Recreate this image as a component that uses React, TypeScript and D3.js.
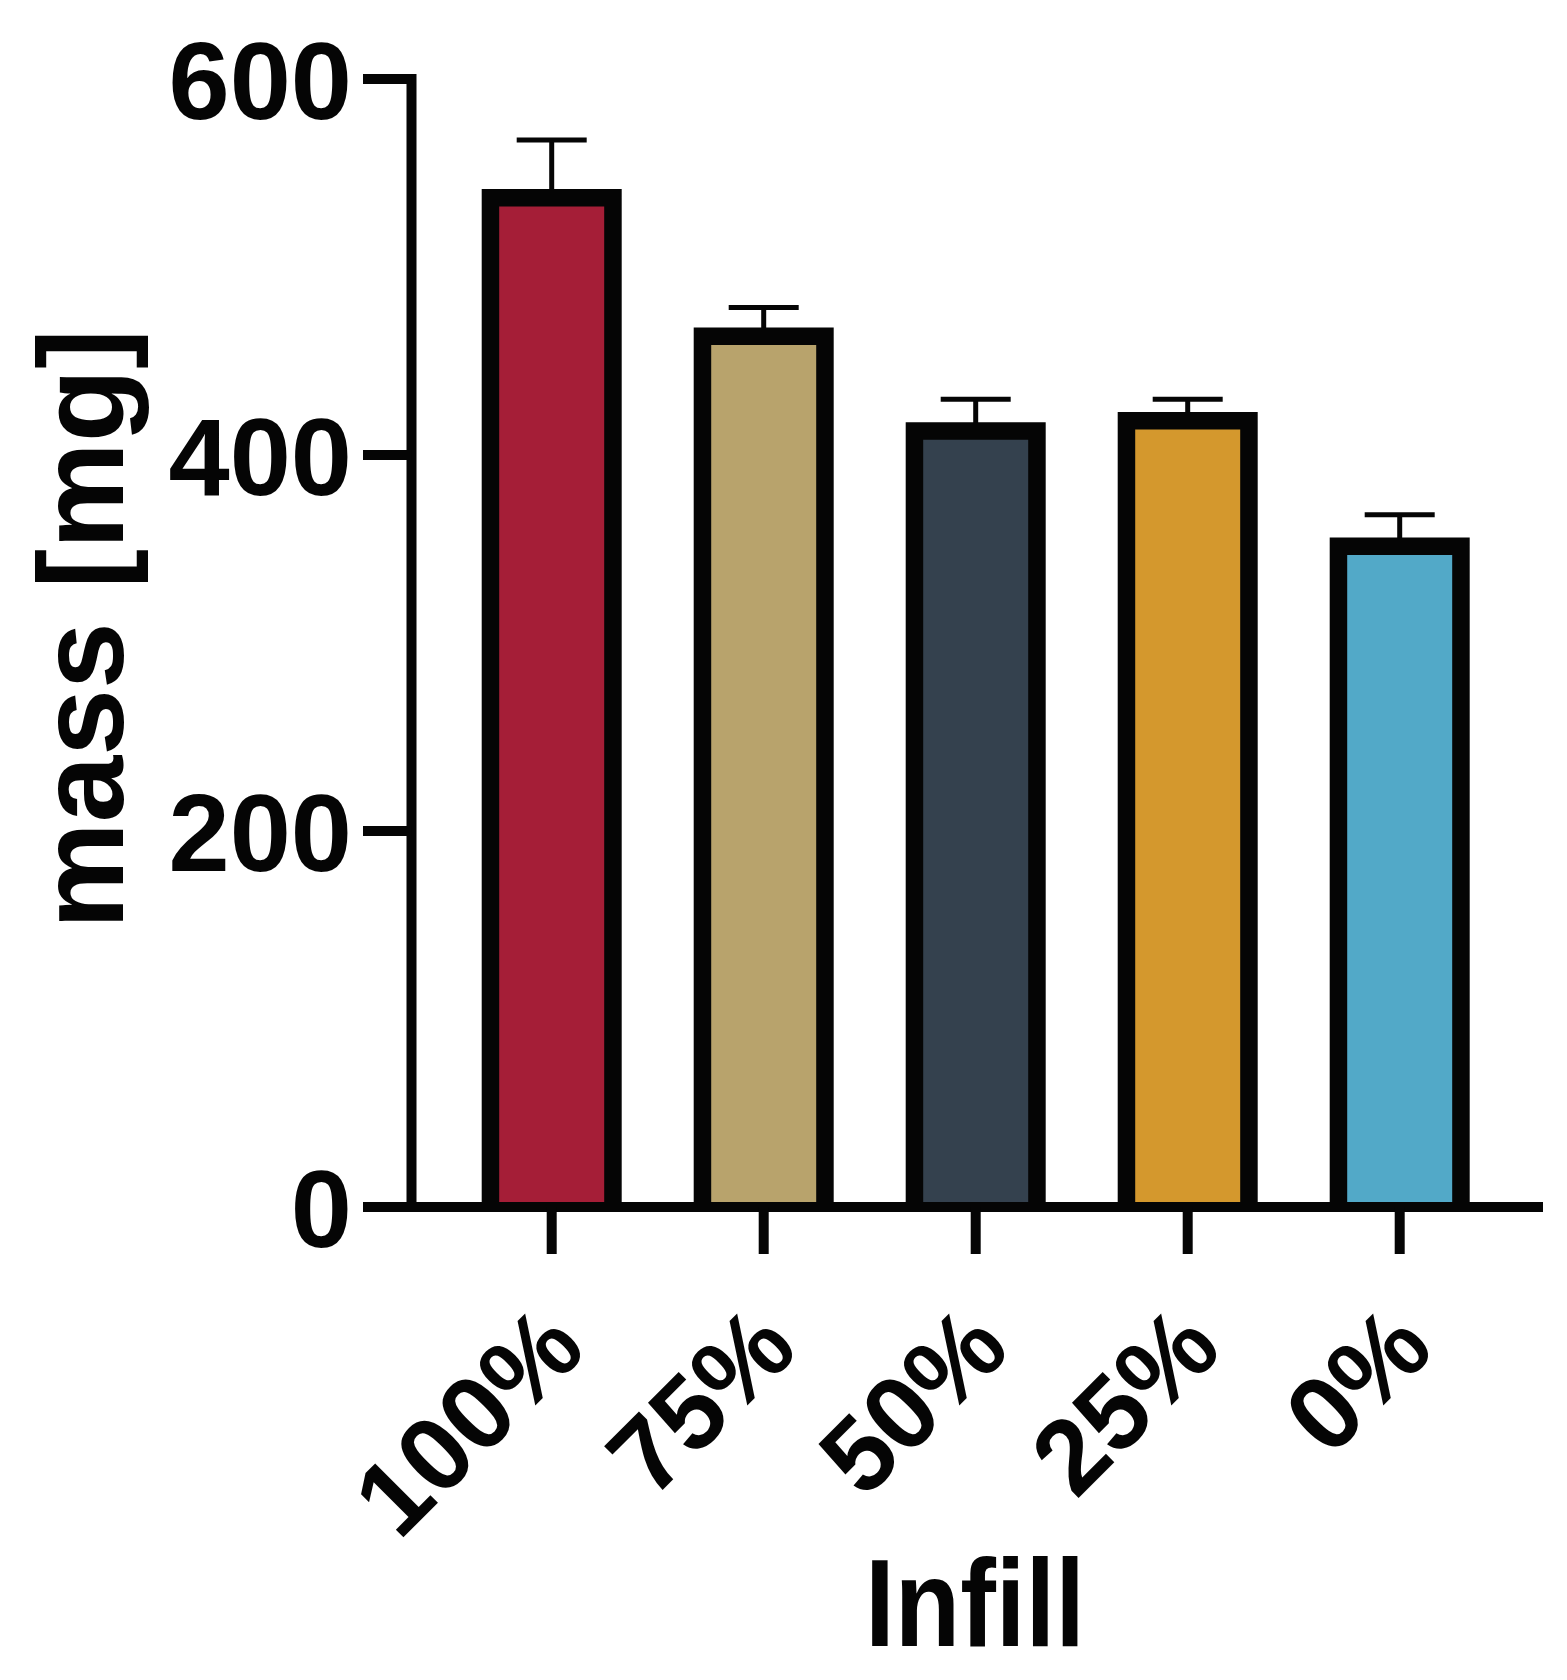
import React from "react";
import * as d3 from "d3";

const categories = ["100%", "75%", "50%", "25%", "0%"];
const means = [536.8, 463.1, 412.8, 418.2, 351.4];
const errors = [30.8, 15.3, 16.9, 11.5, 16.8];
const colors = ["#A51E37", "#B8A36C", "#34414E", "#D4982D", "#52A9C8"];
const yTicks = [0, 200, 400, 600];
const yTitle = "mass [mg]";
const xTitle = "Infill";

const W = 1567;
const H = 1680;
const FONT = "'Liberation Sans', Arial, Helvetica, sans-serif";

export default function App() {
  const y = d3.scaleLinear().domain([0, 600]).range([1207, 79]);
  const x = d3
    .scaleBand<string>()
    .domain(categories)
    .range([445.7, 1505.7])
    .paddingInner(0.34)
    .paddingOuter(0.17);

  const axisX = 411.5;
  const tickLeft = 363;
  const xAxisRight = 1543;
  const strokeAxis = 10;
  const barStroke = 17.5;
  const barHalf = 61.25;
  const capHalf = 35;
  const ink = "#050505";

  return (
    <svg
      width={W}
      height={H}
      viewBox={`0 0 ${W} ${H}`}
      style={{ position: "absolute", left: 0, top: 0, background: "#fff" }}
    >
      <rect x={0} y={0} width={W} height={H} fill="#fff" />
      {/* bars */}
      {categories.map((c, i) => {
        const cx = (x(c) as number) + x.bandwidth() / 2;
        const yt = y(means[i]);
        const ye = y(means[i] + errors[i]);
        const y0 = y(0);
        return (
          <g key={c}>
            <line x1={cx} x2={cx} y1={yt} y2={ye} stroke={ink} strokeWidth={5} />
            <line
              x1={cx - capHalf}
              x2={cx + capHalf}
              y1={ye}
              y2={ye}
              stroke={ink}
              strokeWidth={5}
            />
            <rect
              x={cx - barHalf}
              y={yt}
              width={barHalf * 2}
              height={y0 - yt}
              fill={colors[i]}
            />
            <path
              d={`M${cx - barHalf},${y0} L${cx - barHalf},${yt} L${cx + barHalf},${yt} L${cx + barHalf},${y0}`}
              fill="none"
              stroke={ink}
              strokeWidth={barStroke}
              strokeLinejoin="miter"
            />
          </g>
        );
      })}
      {/* y axis */}
      <line
        x1={axisX}
        x2={axisX}
        y1={y(600) - strokeAxis / 2}
        y2={y(0)}
        stroke={ink}
        strokeWidth={strokeAxis}
      />
      {yTicks.map((t) => (
        <g key={t}>
          <line
            x1={tickLeft}
            x2={axisX}
            y1={y(t)}
            y2={y(t)}
            stroke={ink}
            strokeWidth={strokeAxis}
          />
          <text
            x={352}
            y={y(t) + 40}
            textAnchor="end"
            fontFamily={FONT}
            fontWeight="bold"
            fontSize={110}
            fill={ink}
          >
            {t}
          </text>
        </g>
      ))}
      {/* x axis */}
      <line
        x1={tickLeft}
        x2={xAxisRight}
        y1={y(0)}
        y2={y(0)}
        stroke={ink}
        strokeWidth={strokeAxis}
      />
      {categories.map((c) => {
        const cx = (x(c) as number) + x.bandwidth() / 2;
        const ax = cx + 37;
        const ay = 1352;
        return (
          <g key={"t" + c}>
            <line
              x1={cx}
              x2={cx}
              y1={y(0)}
              y2={1254}
              stroke={ink}
              strokeWidth={strokeAxis}
            />
            <text
              x={ax}
              y={ay}
              transform={`rotate(-45 ${ax} ${ay})`}
              textAnchor="end"
              fontFamily={FONT}
              fontWeight="bold"
              fontSize={105}
              fill={ink}
            >
              {c}
            </text>
          </g>
        );
      })}
      {/* axis titles */}
      <text
        x={123}
        y={629}
        transform={`rotate(-90 123 629)`}
        textAnchor="middle"
        fontFamily={FONT}
        fontWeight="bold"
        fontSize={120}
        fill={ink}
      >
        {yTitle}
      </text>
      <text
        x={975}
        y={1646}
        textAnchor="middle"
        fontFamily={FONT}
        fontWeight="bold"
        fontSize={124}
        textLength={220}
        lengthAdjust="spacingAndGlyphs"
        fill={ink}
      >
        {xTitle}
      </text>
    </svg>
  );
}
